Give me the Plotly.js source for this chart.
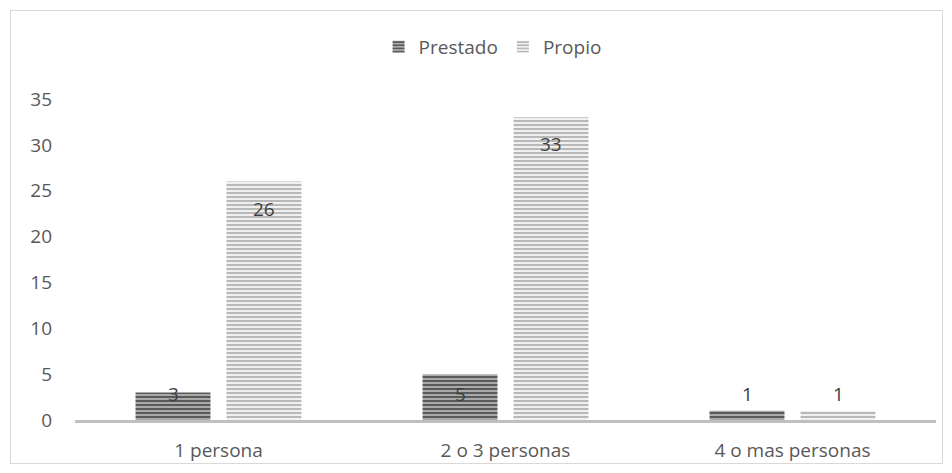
<!DOCTYPE html>
<html>
<head>
<meta charset="utf-8">
<script src="https://cdn.plot.ly/plotly-3.0.1.min.js"></script>
<style>
  html, body { margin: 0; padding: 0; background: #fff; }
  #wrap { position: relative; width: 952px; height: 473px; }
  #chart { position: absolute; left: 0; top: 0; width: 952px; height: 473px; }
  #frame { position: absolute; left: 10px; top: 10px; width: 931px; height: 452px; border: 1px solid #d9d9d9; pointer-events: none; }
</style>
</head>
<body>
<div id="wrap"><div id="chart"></div><div id="frame"></div></div>
<script>
const categories = ["1 persona", "2 o 3 personas", "4 o mas personas"];
const prestado = [3, 5, 1];
const propio = [26, 33, 1];
const seriesNames = ["Prestado", "Propio"];
const yTicks = [0, 5, 10, 15, 20, 25, 30, 35];

const textColor = "#595959";
const fontFam = "Open Sans, Liberation Sans, sans-serif";
const fs = 19;

const traces = [
  {
    type: "bar", name: seriesNames[0], x: categories, y: prestado,
    marker: { color: "#a6a6a6", line: { width: 0 },
      pattern: { shape: "-", fgcolor: "#5a5a5a", bgcolor: "#aaaaaa", size: 4, solidity: 0.5 } },
    hoverinfo: "none"
  },
  {
    type: "bar", name: seriesNames[1], x: categories, y: propio,
    marker: { color: "#ededed", line: { width: 0 },
      pattern: { shape: "-", fgcolor: "#b8b8b8", bgcolor: "#f0f0f0", size: 4, solidity: 0.5 } },
    hoverinfo: "none"
  }
];

// data labels: inside end, kept above a floor near the axis
const annotations = [];
const series = [prestado, propio];
const shifts = [-45.5, 45.5];
series.forEach((vals, s) => {
  vals.forEach((v, i) => {
    annotations.push({
      x: categories[i], y: Math.max(v - 2.95, 2.8), xref: "x", yref: "y",
      xshift: shifts[s], text: String(v), showarrow: false,
      yanchor: "middle", xanchor: "center",
      font: { family: fontFam, size: fs, color: "#404040" }
    });
  });
});

const layout = {
  width: 952, height: 473,
  margin: { l: 75, r: 16, t: 99, b: 53 },
  paper_bgcolor: "rgba(0,0,0,0)", plot_bgcolor: "rgba(0,0,0,0)",
  barmode: "group", bargap: 0.366, bargroupgap: 0.176,
  font: { family: fontFam, size: fs, color: textColor },
  showlegend: true,
  legend: { orientation: "h", x: 0.485, xanchor: "center", y: 1.162, yanchor: "middle",
    font: { family: fontFam, size: fs, color: textColor }, itemwidth: 30, traceorder: "normal" },
  xaxis: { type: "category", showgrid: false, showline: true, linecolor: "#bfbfbf", linewidth: 3,
    ticks: "", ticklabelstandoff: 11, tickfont: { family: fontFam, size: fs, color: textColor }, fixedrange: true },
  yaxis: { range: [0, 35], tickvals: yTicks, ticktext: yTicks.map(String), showgrid: false, zeroline: false,
    showline: false, ticks: "", ticklabelstandoff: 22, tickfont: { family: fontFam, size: fs, color: textColor }, fixedrange: true },
  annotations: annotations
};

Plotly.newPlot("chart", traces, layout, { displayModeBar: false, staticPlot: true });
</script>
</body>
</html>
